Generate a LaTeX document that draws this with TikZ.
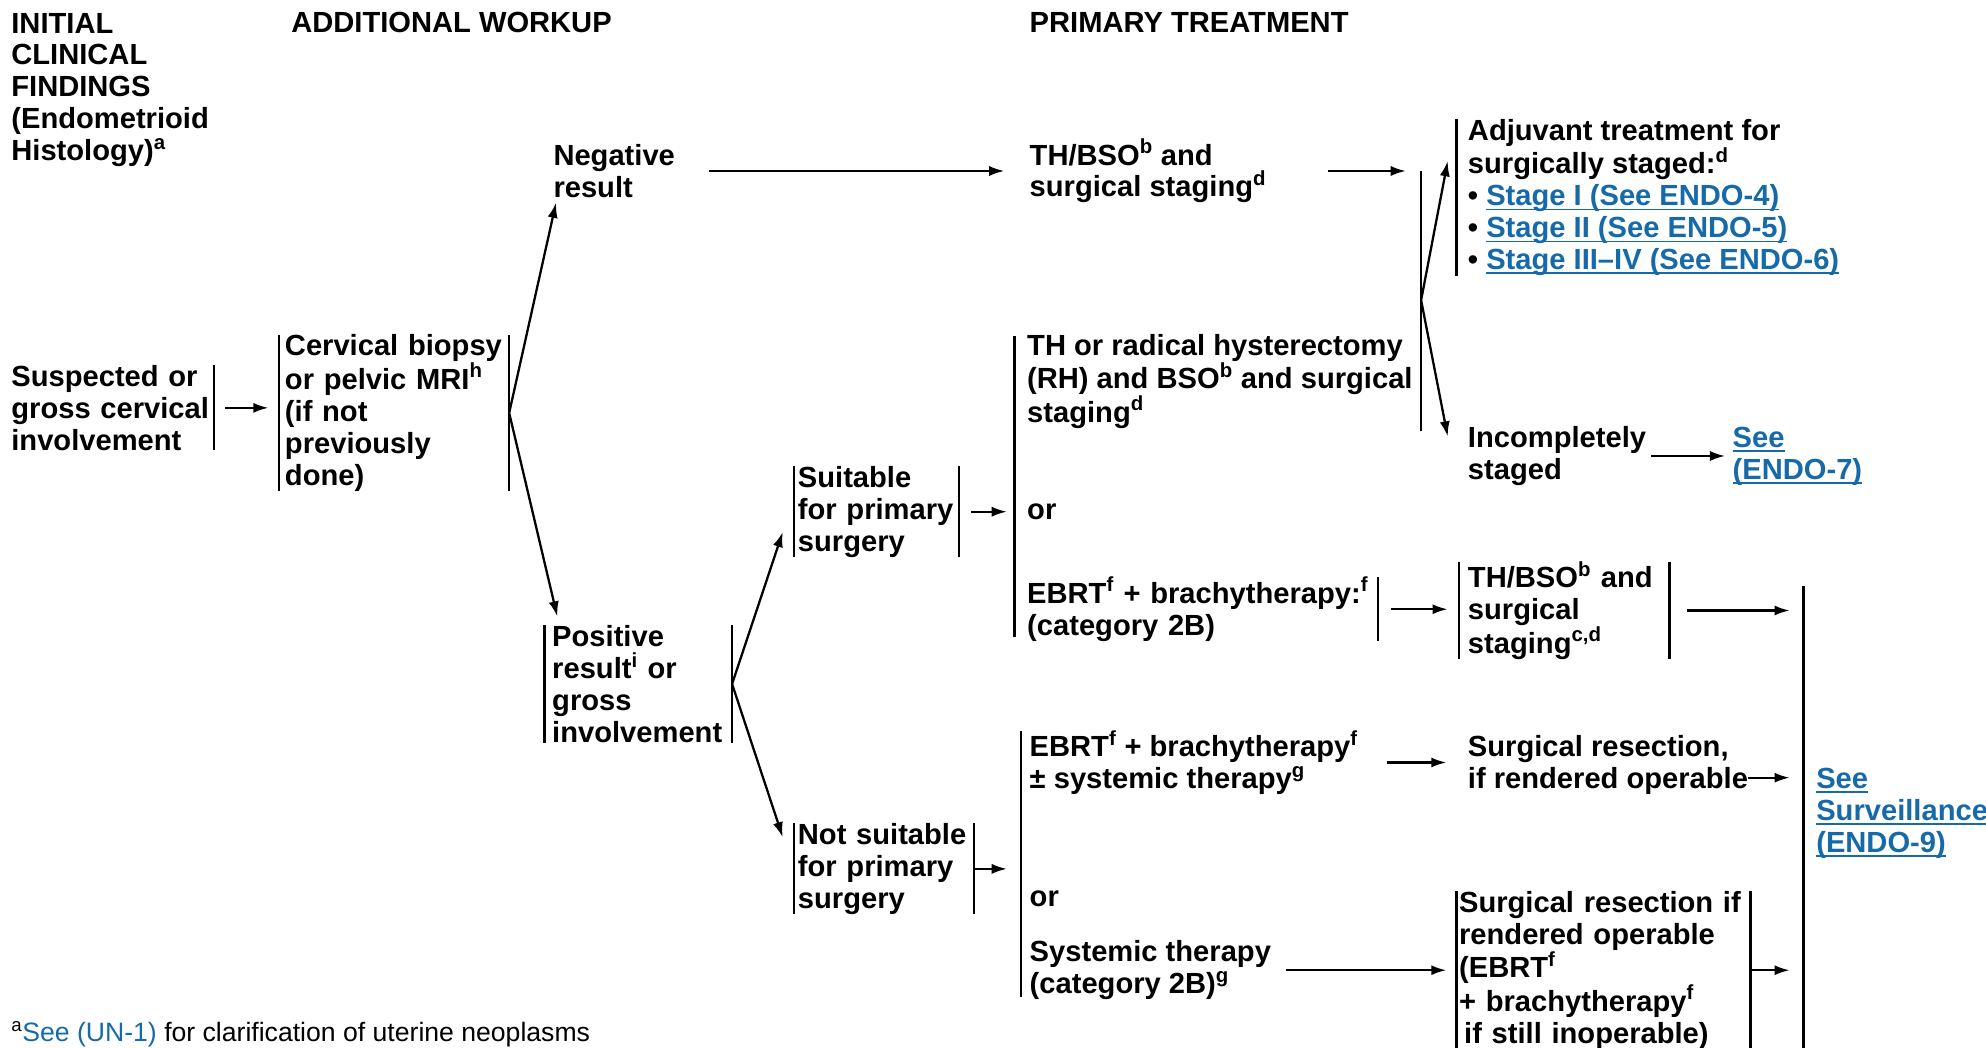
\documentclass[tikz,border=0pt]{standalone}
\usepackage{fontspec}
\setmainfont{Liberation Sans}
\usepackage{tikz}
\usetikzlibrary{arrows.meta,positioning}

\definecolor{linkblue}{RGB}{22,106,170}
\newcommand{\lnk}[1]{\textcolor{linkblue}{\setbox0\hbox{#1}\rlap{\rule[-3.5bp]{\wd0}{1.3bp}}\box0}}

\begin{document}
\begin{tikzpicture}[x=1bp, y=-1bp]
	\tikzstyle{Txt}  = [anchor=west, align=left, inner sep=0pt, outer sep=0pt, font=\fontsize{23bp}{25.2bp}\selectfont\bfseries]
	\tikzstyle{Box}  = [Txt, inner ysep=0pt]
	\tikzstyle{Note} = [Txt, anchor=base west, font=\fontsize{21bp}{24bp}\selectfont]
	\tikzstyle{Bar}  = [line width=1.8bp]
	\tikzstyle{Flow} = [line width=1.8bp, -{Latex[length=12bp, width=8bp]}]

	\useasboundingbox (0,0) rectangle (1568,827);

	% column heads
	\node (hInit) at (9,71) [Txt] {INITIAL\\CLINICAL\\FINDINGS\\(Endometrioid\\Histology)\textsuperscript{a}};
	\node (hWork) at (230,18) [Txt] {ADDITIONAL WORKUP};
	\node (hPrim) at (813,18) [Txt] {PRIMARY TREATMENT};

	% findings and workup
	\node (susp) at (7,322) [Box, inner xsep=2bp, text width=158bp] {Suspected or\\gross cervical\\involvement};
	\node (cerv) at (220,326) [Box, inner xsep=5bp, text width=172bp] {Cervical biopsy\\or pelvic MRI\textsuperscript{h}\\(if not\\previously\\done)};
	\node (neg) at (437,135) [Txt] {Negative\\result};
	\node (pos) at (430,540) [Box, inner xsep=6bp, text width=136bp] {Positive\\result\textsuperscript{i} or\\gross\\involvement};
	\node (suit) at (627,404) [Box, inner xsep=3bp, text width=124bp] {Suitable\\for primary\\surgery};
	\node (notsuit) at (627,686) [Box, inner xsep=3bp, text width=136bp] {Not suitable\\for primary\\surgery};

	% primary treatment
	\node (thbso1) at (813,135) [Txt] {TH/BSO\textsuperscript{b} and\\surgical staging\textsuperscript{d}};
	\node (hyst) at (811,301) [Txt] {TH or radical hysterectomy\\(RH) and BSO\textsuperscript{b} and surgical\\staging\textsuperscript{d}};
	\node (or1) at (811,404) [Txt] {or};
	\node (ebrt1) at (811,481) [Box, text width=277bp] {EBRT\textsuperscript{f} + brachytherapy:\textsuperscript{f}\\(category 2B)};
	\node (ebrt2) at (813,602) [Txt] {EBRT\textsuperscript{f} + brachytherapy\textsuperscript{f}\\± systemic therapy\textsuperscript{g}};
	\node (or2) at (813,710) [Txt] {or};
	\node (sys) at (813,766) [Txt] {Systemic therapy\\(category 2B)\textsuperscript{g}};

	\node (adj) at (1150,156) [Txt, inner xsep=9bp] {Adjuvant treatment for\\surgically staged:\textsuperscript{d}\\\textbullet{} \lnk{Stage I (See ENDO-4)}\\\textbullet{} \lnk{Stage II (See ENDO-5)}\\\textbullet{} \lnk{Stage III–IV (See ENDO-6)}};
	\node (inc) at (1159,360) [Txt] {Incompletely\\staged};
	\node (see7) at (1368,360) [Txt] {\lnk{See}\\\lnk{(ENDO-7)}};
	\node (thbso2) at (1152,482) [Box, inner xsep=7bp, text width=152bp] {TH/BSO\textsuperscript{b} and\\surgical\\staging\textsuperscript{c,d}};
	\node (sr1) at (1159,604) [Txt] {Surgical resection,\\if rendered operable};
	\node (sr2) at (1150,766) [Box, inner xsep=2bp, text width=228bp] {Surgical resection if\\rendered operable\\(EBRT\textsuperscript{f}\\+ brachytherapy\textsuperscript{f}\\\hspace*{4bp}if still inoperable)};
	\node (see9) at (1434,642) [Txt] {\lnk{See}\\\lnk{Surveillance}\\\lnk{(ENDO-9)}};

	\node (fn) at (9,822) [Note] {\textsuperscript{a}\textcolor{linkblue}{See (UN-1)} for clarification of uterine neoplasms};

	% shared bars
	\coordinate (surgTop) at (801,265);
	\coordinate (surgBot) at (801,503);
	\coordinate (nsTop) at (806,577);
	\coordinate (nsBot) at (806,787);
	\coordinate (colTop) at (1122,135);
	\coordinate (colMid) at (1122,237);
	\coordinate (colBot) at (1122,340);
	\coordinate (survTop) at (1424,463);
	\coordinate (survBot) at (1424,840);

	\draw [Bar] (susp.north east) to (susp.south east);
	\draw [Bar] (cerv.north west) to (cerv.south west) (cerv.north east) to (cerv.south east);
	\draw [Bar] (pos.north west) to (pos.south west) (pos.north east) to (pos.south east);
	\draw [Bar] (suit.north west) to (suit.south west) (suit.north east) to (suit.south east);
	\draw [Bar] (notsuit.north west) to (notsuit.south west) (notsuit.north east) to (notsuit.south east);
	\draw [Bar] (ebrt1.north east) to (ebrt1.south east);
	\draw [Bar] (thbso2.north west) to (thbso2.south west) (thbso2.north east) to (thbso2.south east);
	\draw [Bar] (sr2.north west) to (sr2.south west) (sr2.north east) to (sr2.south east);
	\draw [Bar] (adj.north west) to (adj.south west);
	\draw [Bar] (surgTop) to (surgBot);
	\draw [Bar] (nsTop) to (nsBot);
	\draw [Bar] (colTop) to (colBot);
	\draw [Bar] (survTop) to (survBot);

	% arrows
	\draw [Flow, shorten <=9bp, shorten >=8bp] (susp.east) to (susp.east -| cerv.west);
	\draw [Flow] (cerv.east) to ([xshift=2bp, yshift=-4bp]neg.south west);
	\draw [Flow] (cerv.east) to ([xshift=10bp, yshift=7bp]pos.north west);
	\draw [Flow, shorten <=27bp, shorten >=20bp] (neg.east) to (thbso1.west);
	\draw [Flow, shorten <=49bp, shorten >=12bp] (thbso1.east) to (colTop);
	\draw [Flow] (colMid) to ([xshift=-7bp, yshift=-33bp]adj.north west);
	\draw [Flow] (colMid) to ([xshift=-16bp, yshift=-8bp]inc.north west);
	\draw [Flow, shorten <=4bp, shorten >=6bp] (inc.east) to (see7.west);
	\draw [Flow] (pos.east) to ([xshift=-9bp, yshift=-16bp]suit.west);
	\draw [Flow] (pos.east) to ([xshift=-9bp, yshift=-11bp]notsuit.north west);
	\draw [Flow, shorten <=10bp, shorten >=6bp] (suit.east) to (suit.east -| surgTop);
	\draw [Flow, shorten >=11bp] (notsuit.east) to (notsuit.east -| nsTop);
	\draw [Flow, shorten <=10bp, shorten >=9bp] (ebrt1.east) to (ebrt1.east -| thbso2.west);
	\draw [Flow, shorten <=14bp, shorten >=11bp] (thbso2.east) to (thbso2.east -| survTop);
	\draw [Flow, shorten <=23bp, shorten >=17bp] (ebrt2.east) to (ebrt2.east -| sr1.west);
	\draw [Flow, shorten >=11bp] ([yshift=-10bp]sr1.east) to ([yshift=-10bp]sr1.east -| survTop);
	\draw [Flow, shorten <=12bp, shorten >=8bp] (sys.east) to (sys.east -| sr2.west);
	\draw [Flow, shorten <=1bp, shorten >=11bp] (sr2.east) to (sr2.east -| survTop);
\end{tikzpicture}
\end{document}
